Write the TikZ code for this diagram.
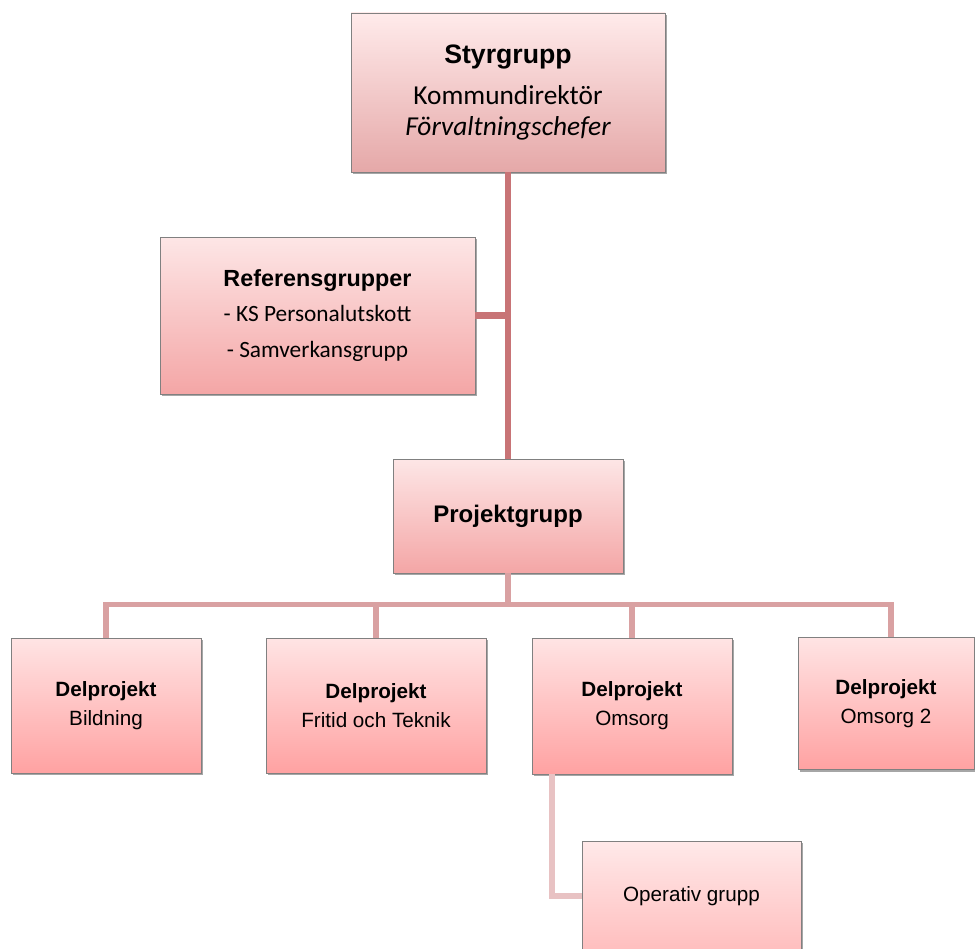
\documentclass[tikz,border=0pt]{standalone}
\usepackage{fontspec}
\setmainfont{Liberation Sans}
\newfontfamily\calibri{Carlito}
\usetikzlibrary{calc,shadows}
\definecolor{trunkline}{HTML}{C87476}
\definecolor{busline}{HTML}{D9A1A2}
\definecolor{operline}{HTML}{E8C2C3}
\tikzset{
  box/.style={draw=black!50, line width=0.6pt, inner sep=0pt, align=center,
    drop shadow={shadow xshift=1.5pt, shadow yshift=-1.8pt, opacity=0.35, fill=black}},
  styrbox/.style={box, top color=red!8!white, bottom color={rgb,255:red,229;green,168;blue,168}},
  refbox/.style={box, top color={rgb,255:red,253;green,230;blue,230}, bottom color={rgb,255:red,244;green,166;blue,166}},
  delbox/.style={box, top color={rgb,255:red,255;green,228;blue,228}, bottom color={rgb,255:red,255;green,162;blue,162},
    font=\fontsize{15.5}{21.75}\selectfont},
  operbox/.style={box, top color={rgb,255:red,255;green,233;blue,233}, bottom color={rgb,255:red,255;green,190;blue,190},
    font=\fontsize{15.5}{19}\selectfont},
  trunk/.style={trunkline, line width=4.8pt},
  bus/.style={busline, line width=4.2pt},
}

\begin{document}
\begin{tikzpicture}[x=0.75pt, y=-0.75pt]
	\useasboundingbox (0,0) rectangle (975,949);

	\node[styrbox, minimum width=235.5pt, minimum height=119.25pt, font=\fontsize{20.5}{23.3}\selectfont] (styr) at (508,92.5)
		{{\bfseries\fontsize{20}{24}\selectfont Styrgrupp}\\[7pt] {\calibri Kommundirektör}\\ {\calibri\itshape Förvaltningschefer}};
	\node[refbox, minimum width=236.25pt, minimum height=117.75pt, font=\fontsize{17.5}{26.6}\selectfont] (ref) at (317.5,315.5)
		{\textbf{Referensgrupper}\\ {\calibri - KS Personalutskott}\\ {\calibri - Samverkansgrupp}};
	\node[refbox, minimum width=172.5pt, minimum height=85.5pt, font=\bfseries\fontsize{18}{22}\selectfont] (proj) at (508,516) {Projektgrupp};

	\node[delbox, minimum width=142.5pt, minimum height=101.25pt] (del1) at (106,705.5) {\textbf{Delprojekt}\\ Bildning};
	\node[delbox, minimum width=165pt, minimum height=101.25pt] (del2) at (376,705.5) {\textbf{Delprojekt}\\ Fritid och Teknik};
	\node[delbox, minimum width=150pt, minimum height=102pt] (del3) at (632,706) {\textbf{Delprojekt}\\ Omsorg};
	\node[delbox, minimum width=132pt, minimum height=99pt] (del4) at (886,703.5) {\textbf{Delprojekt}\\ Omsorg 2};

	\node[operbox, minimum width=164.25pt, minimum height=82.5pt] (oper) at (691.5,896) {Operativ grupp};

	\draw[trunk] (styr.south) -- (proj.north);
	\draw[trunk] (ref.east) -- (ref.east -| styr.south);
	\draw[bus] (proj.south) -- ++(0,31) coordinate (bus);
	\foreach \d in {del1,del2,del3}
		\draw[bus] (bus) -| (\d.north);
	\draw[bus] (bus) -| ([xshift=3.75pt]del4.north);
	\draw[operline, line width=4pt] ($(del3.south)+(-80,0)$) |- (oper.west);
\end{tikzpicture}
\end{document}
